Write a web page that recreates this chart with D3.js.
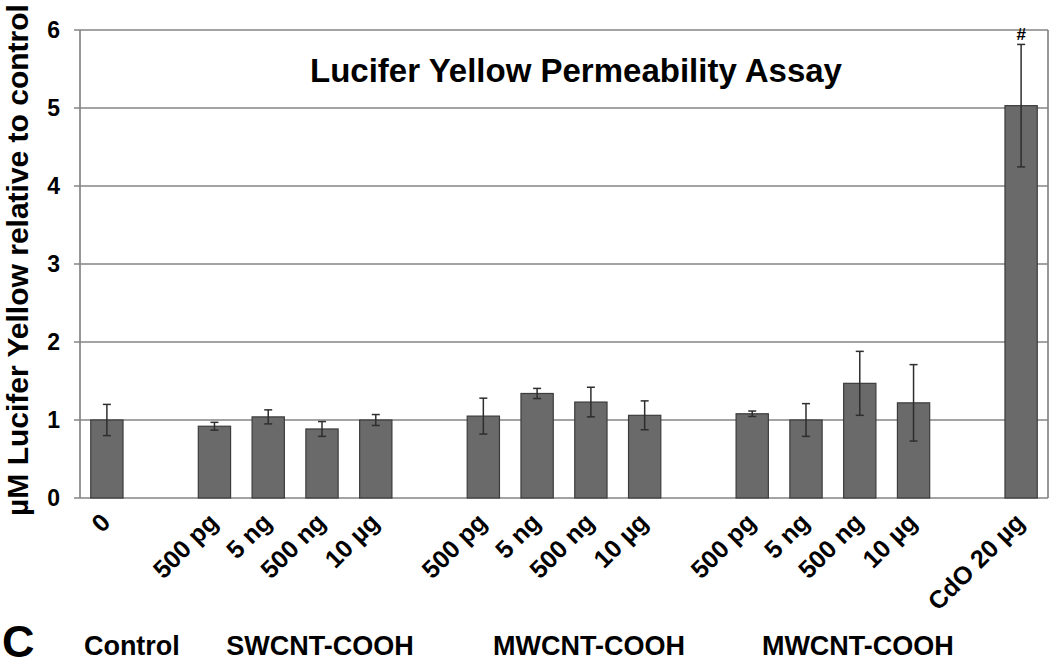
<!DOCTYPE html>
<html>
<head>
<meta charset="utf-8">
<script src="https://cdn.jsdelivr.net/npm/d3@7"></script>
<style>
  html, body { margin: 0; padding: 0; background: #fff; }
  svg { display: block; font-family: "Liberation Sans", Arial, sans-serif; }
</style>
</head>
<body>
<svg id="chart" width="1050" height="666"></svg>
<script>
// ---- Data ----
const tickLabels = ["0", "", "500 pg", "5 ng", "500 ng", "10 µg", "", "500 pg", "5 ng", "500 ng", "10 µg", "", "500 pg", "5 ng", "500 ng", "10 µg", "", "CdO 20 µg"];
const means  = [1.00, null, 0.92, 1.04, 0.885, 1.00, null, 1.05, 1.34, 1.23, 1.06, null, 1.08, 1.00, 1.47, 1.22, null, 5.03];
const errors = [0.20, null, 0.05, 0.09, 0.095, 0.07, null, 0.23, 0.065, 0.19, 0.185, null, 0.035, 0.21, 0.41, 0.49, null, 0.785];
const groupNames = ["Control", "SWCNT-COOH", "MWCNT-COOH", "MWCNT-COOH"];
const groupSlots = [[0], [2, 3, 4, 5], [7, 8, 9, 10], [12, 13, 14, 15]];
const yTicks = [0, 1, 2, 3, 4, 5, 6];
const markers = [{ slot: 17, text: "#" }];
const title = "Lucifer Yellow Permeability Assay";
const yTitle = "µM Lucifer Yellow relative to control";
const panelLetter = "C";

// ---- Layout ----
const svg = d3.select("#chart");
const pLeft = 80, pRight = 1048, pTop = 30, pBottom = 498;

const x = d3.scaleBand()
  .domain(d3.range(tickLabels.length))
  .range([pLeft, pRight])
  .paddingInner(0.4)
  .paddingOuter(0.2);

const y = d3.scaleLinear().domain([0, 6]).range([pBottom, pTop]);

const gridColor = "#858585";

// gridlines with left ticks
svg.append("g").selectAll("line")
  .data(yTicks)
  .join("line")
  .attr("x1", pLeft - 6).attr("x2", pRight)
  .attr("y1", d => y(d)).attr("y2", d => y(d))
  .attr("stroke", gridColor).attr("stroke-width", 1.7);

// left axis & right border
svg.append("line").attr("x1", pLeft).attr("x2", pLeft).attr("y1", pTop).attr("y2", pBottom)
  .attr("stroke", gridColor).attr("stroke-width", 1.7);
svg.append("line").attr("x1", pRight).attr("x2", pRight).attr("y1", pTop).attr("y2", pBottom)
  .attr("stroke", gridColor).attr("stroke-width", 1.7);

// y tick labels
svg.append("g").selectAll("text")
  .data(yTicks)
  .join("text")
  .attr("x", 60).attr("y", d => y(d))
  .attr("dy", "0.36em")
  .attr("text-anchor", "end")
  .attr("font-size", 23).attr("font-weight", "bold")
  .text(d => d);

// bars
const idx = d3.range(tickLabels.length).filter(i => means[i] != null);
svg.append("g").selectAll("rect")
  .data(idx)
  .join("rect")
  .attr("x", i => x(i))
  .attr("width", x.bandwidth())
  .attr("y", i => y(means[i]))
  .attr("height", i => y(0) - y(means[i]))
  .attr("fill", "#6a6a6a")
  .attr("stroke", "#3c3c3c").attr("stroke-width", 1.2);

// error bars
const eb = svg.append("g").attr("stroke", "#2e2e2e").attr("stroke-width", 1.5);
idx.forEach(i => {
  const cx = x(i) + x.bandwidth() / 2;
  const y1 = y(means[i] + errors[i]), y2 = y(means[i] - errors[i]);
  eb.append("line").attr("x1", cx).attr("x2", cx).attr("y1", y1).attr("y2", y2);
  eb.append("line").attr("x1", cx - 4).attr("x2", cx + 4).attr("y1", y1).attr("y2", y1);
  eb.append("line").attr("x1", cx - 4).attr("x2", cx + 4).attr("y1", y2).attr("y2", y2);
});

// significance markers
svg.append("g").selectAll("text")
  .data(markers)
  .join("text")
  .attr("x", d => x(d.slot) + x.bandwidth() / 2)
  .attr("y", d => y(means[d.slot] + errors[d.slot]) - 4)
  .attr("text-anchor", "middle")
  .attr("font-size", 17).attr("font-weight", "bold")
  .text(d => d.text);

// x tick labels (rotated)
svg.append("g").selectAll("text")
  .data(d3.range(tickLabels.length).filter(i => tickLabels[i] !== ""))
  .join("text")
  .attr("transform", i => `translate(${x(i) + x.bandwidth() / 2 + 5},${pBottom + 26}) rotate(-45)`)
  .attr("text-anchor", "end")
  .attr("font-size", 25).attr("font-weight", "bold")
  .text(i => tickLabels[i]);

// title
svg.append("text")
  .attr("x", 576).attr("y", 82)
  .attr("text-anchor", "middle")
  .attr("font-size", 33).attr("font-weight", "bold")
  .text(title);

// y title
svg.append("text")
  .attr("transform", `translate(28,260) rotate(-90)`)
  .attr("text-anchor", "middle")
  .attr("font-size", 30).attr("font-weight", "bold")
  .text(yTitle);

// group labels
svg.append("g").selectAll("text")
  .data(groupNames)
  .join("text")
  .attr("x", (d, g) => d3.mean(groupSlots[g], i => x(i) + x.bandwidth() / 2) + 25)
  .attr("y", 655)
  .attr("text-anchor", "middle")
  .attr("font-size", 27).attr("font-weight", "bold")
  .text(d => d);

// panel letter
svg.append("text")
  .attr("x", 2).attr("y", 657)
  .attr("font-size", 45).attr("font-weight", "bold")
  .text(panelLetter);
</script>
</body>
</html>
